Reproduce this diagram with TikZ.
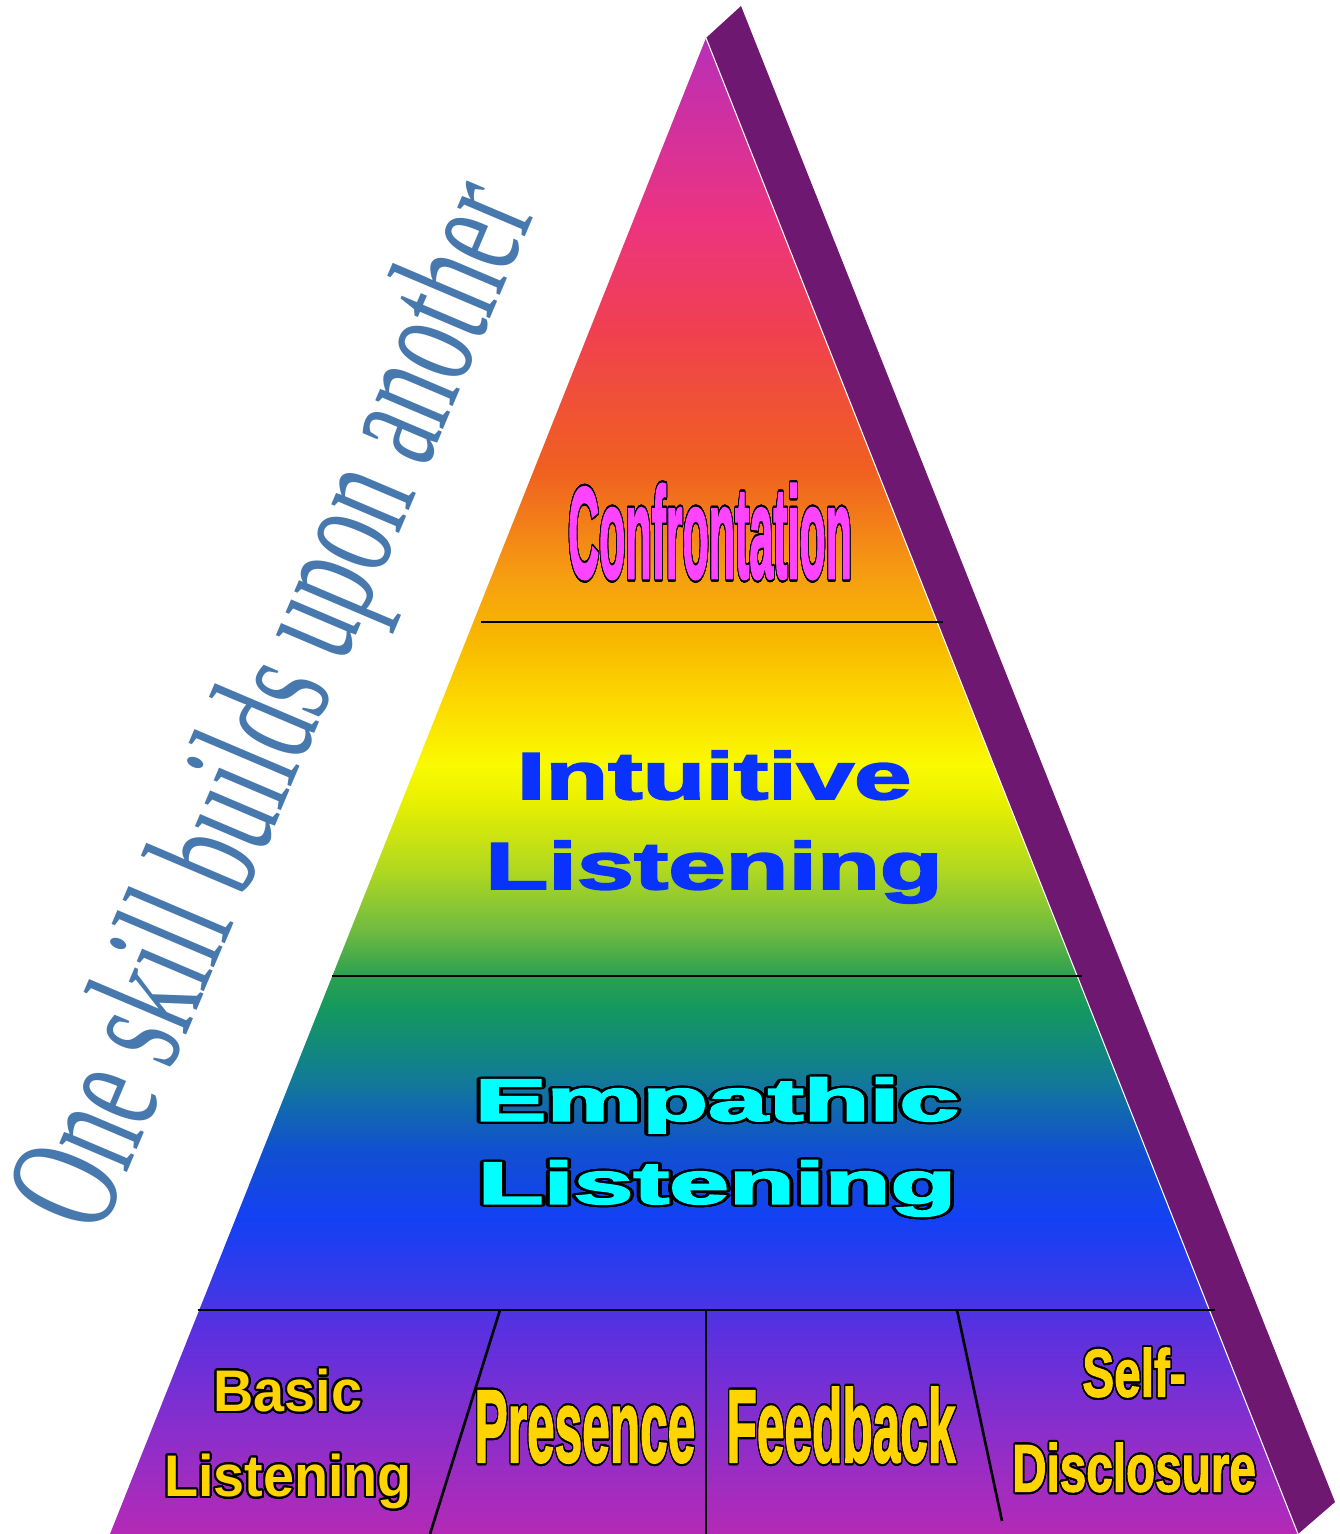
\documentclass[tikz,border=0pt]{standalone}
\usepackage{fontspec}
\usepackage{contour}
\setmainfont{Liberation Sans}
\newfontfamily\blockfont[FakeBold=2]{Liberation Sans Bold}
\newfontfamily\widefont[FakeBold=2.5]{Liberation Sans Bold}
\newfontfamily\roundfont{Liberation Sans Bold}
\newfontfamily\slogfont{Liberation Serif}
\contourlength{0.6pt}
\contournumber{32}

% face colours
\definecolor{sideface}{HTML}{6F1872}
\definecolor{confpink}{HTML}{FF44FF}
\definecolor{intublue}{HTML}{0A32FF}
\definecolor{empcyan}{HTML}{00FFFF}
\definecolor{basegold}{HTML}{FFD400}
\definecolor{slogblue}{HTML}{4779AE}

% colour stops, bottom to top
\definecolor{r00}{HTML}{B42AB6}
\definecolor{r01}{HTML}{8A2ECC}
\definecolor{r02}{HTML}{5A30E0}
\definecolor{r03}{HTML}{3C38E8}
\definecolor{r04}{HTML}{1440F5}
\definecolor{r05}{HTML}{1050D0}
\definecolor{r06}{HTML}{127A98}
\definecolor{r07}{HTML}{139860}
\definecolor{r08}{HTML}{2AA050}
\definecolor{r09}{HTML}{70BB40}
\definecolor{r10}{HTML}{B0D820}
\definecolor{r11}{HTML}{E8F000}
\definecolor{r12}{HTML}{FAFA00}
\definecolor{r13}{HTML}{FCD800}
\definecolor{r14}{HTML}{F8B800}
\definecolor{r15}{HTML}{F6A010}
\definecolor{r16}{HTML}{F06020}
\definecolor{r17}{HTML}{F05530}
\definecolor{r18}{HTML}{F04050}
\definecolor{r19}{HTML}{EC3480}
\definecolor{r20}{HTML}{D030A0}
\definecolor{r21}{HTML}{B830B8}

\pgfdeclareverticalshading{rainbow}{100bp}{
  color(0bp)=(r00); color(25bp)=(r00); color(28.48bp)=(r01);
  color(31.82bp)=(r02); color(33.16bp)=(r03); color(35.49bp)=(r04);
  color(37.83bp)=(r05); color(40.17bp)=(r06); color(42.51bp)=(r07);
  color(43.65bp)=(r08); color(45.19bp)=(r09); color(47.19bp)=(r10);
  color(49.53bp)=(r11); color(50.70bp)=(r12); color(52.87bp)=(r13);
  color(54.88bp)=(r14); color(56.88bp)=(r15); color(60.56bp)=(r16);
  color(62.23bp)=(r17); color(65.24bp)=(r18); color(68.92bp)=(r19);
  color(72.26bp)=(r20); color(75bp)=(r21); color(100bp)=(r21)}

\begin{document}
\begin{tikzpicture}[x=0.01cm, y=-0.01cm,
    divider/.style={line width=0.75pt, black},
    tier/.style={inner sep=0pt, align=center},
    narrow/.style={tier, xscale=0.48, font=\fontsize{29.4}{32}\blockfont},
    outlined/.style={text=basegold}
]
    \useasboundingbox (0,0) rectangle (1339,1534);

    \coordinate (apex) at (706,38);
    \coordinate (backtop) at (741,6);
    \coordinate (baseL) at (110,1534);
    \coordinate (baseR) at (1298,1534);
    \coordinate (backbot) at (1335,1502);

    % side and front faces
    \fill[sideface] (apex) -- (backtop) -- (backbot) -- (baseR) -- cycle;
    \shade[shading=rainbow] (apex) -- (baseR) -- (baseL) -- cycle;
    \draw[white, line width=0.3pt] (apex) -- (baseR);

    % tier borders
    \draw[divider] (481,622) -- (943,622);
    \draw[divider] (332,976) -- (1082,976);
    \draw[divider] (198,1310) -- (1215,1310);
    \draw[divider] (500,1310) -- (430,1534);
    \draw[divider] (706,1310) -- (706,1534);
    \draw[divider] (957,1310) -- (1002,1521);

    % labels
    \node[tier, xscale=0.33, anchor=base, text=confpink,
          font=\fontsize{37}{40}\blockfont] (conf) at (710,578)
        {\contour{black}{Confrontation}};
    \node[tier, xscale=1.54, text=intublue,
          font=\fontsize{19}{25.6}\widefont] (intu) at (714,827)
        {Intuitive\\Listening};
    \node[tier, xscale=1.8, text=empcyan,
          font=\fontsize{17}{23.6}\widefont] (emp) at (717,1148)
        {\contour{black}{Empathic}\\\contour{black}{Listening}};
    \node[tier, xscale=0.95, outlined,
          font=\fontsize{16.7}{24.2}\roundfont] (basic) at (288,1440)
        {\contour{black}{Basic}\\\contour{black}{Listening}};
    \node[narrow, anchor=base, outlined] (pres) at (585,1462)
        {\contour{black}{Presence}};
    \node[narrow, anchor=base, outlined] (feed) at (841,1462)
        {\contour{black}{Feedback}};
    \node[tier, xscale=0.71, outlined,
          font=\fontsize{19.1}{27}\blockfont] (self) at (1134,1421)
        {\contour{black}{Self-}\\\contour{black}{Disclosure}};

    \node[rotate=67, xscale=0.59, anchor=base west, inner sep=0pt, text=slogblue,
          font=\fontsize{45.5}{50}\slogfont] (slogan) at (100,1238)
        {One skill builds upon another};
\end{tikzpicture}
\end{document}
